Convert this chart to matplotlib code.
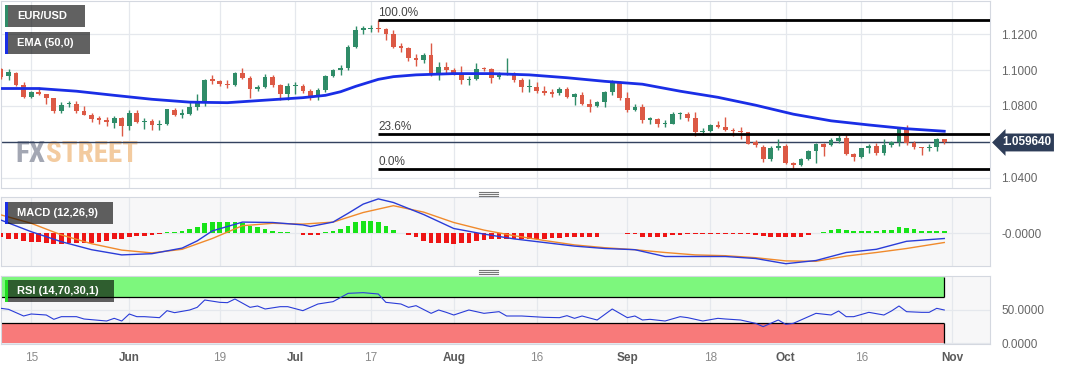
import numpy as np
import pandas as pd
import matplotlib
matplotlib.use('Agg')
import matplotlib.pyplot as plt
from matplotlib.patches import Rectangle
from matplotlib.lines import Line2D
from matplotlib import font_manager

plt.rcParams['font.family'] = ['Liberation Sans', 'DejaVu Sans']

# ---- data (EUR/USD daily, 2023-05-09 .. 2023-10-31) ----
axis_days = pd.bdate_range('2023-05-09', '2023-11-01')

opens = [1.1005, 1.0965, 1.0985, 1.0918, 1.0850, 1.0877, 1.0864, 1.0842, 1.0771, 1.0808,
         1.0812, 1.0770, 1.0752, 1.0727, 1.0722, 1.0706, 1.0735, 1.0690, 1.0763, 1.0708,
         1.0714, 1.0693, 1.0700, 1.0780, 1.0750, 1.0757, 1.0793, 1.0830, 1.0945, 1.0940,
         1.0924, 1.0918, 1.0986, 1.0957, 1.0896, 1.0906, 1.0960, 1.0914, 1.0868, 1.0910,
         1.0912, 1.0882, 1.0856, 1.0889, 1.0967, 1.0998, 1.1010, 1.1130, 1.1225, 1.1228,
         1.1235, 1.1228, 1.1200, 1.1133, 1.1125, 1.1066, 1.1055, 1.1085, 1.0978, 1.1016,
         1.0998, 1.0984, 1.0943, 1.0952, 1.1008, 1.1003, 1.0960, 1.0976, 1.0982, 1.0947,
         1.0903, 1.0906, 1.0882, 1.0872, 1.0873, 1.0896, 1.0850, 1.0863, 1.0811, 1.0797,
         1.0820, 1.0880, 1.0925, 1.0843, 1.0777, 1.0795, 1.0722, 1.0725, 1.0698, 1.0700,
         1.0753, 1.0756, 1.0731, 1.0653, 1.0660, 1.0693, 1.0680, 1.0665, 1.0660, 1.0652,
         1.0600, 1.0572, 1.0502, 1.0567, 1.0576, 1.0483, 1.0470, 1.0504, 1.0548, 1.0587,
         1.0582, 1.0605, 1.0620, 1.0530, 1.0518, 1.0563, 1.0576, 1.0539, 1.0585, 1.0600,
         1.0669, 1.0591, 1.0569, 1.0565, 1.0569, 1.0613]
highs = [1.1010, 1.1008, 1.0990, 1.0933, 1.0885, 1.0904, 1.0868, 1.0846, 1.0820, 1.0825,
         1.0830, 1.0798, 1.0758, 1.0745, 1.0740, 1.0745, 1.0740, 1.0780, 1.0780, 1.0730,
         1.0725, 1.0720, 1.0785, 1.0790, 1.0783, 1.0823, 1.0865, 1.0950, 1.0970, 1.0945,
         1.0946, 1.0990, 1.1012, 1.0965, 1.0915, 1.0976, 1.0975, 1.0920, 1.0930, 1.0935,
         1.0920, 1.0893, 1.0900, 1.0974, 1.1005, 1.1030, 1.1140, 1.1245, 1.1244, 1.1250,
         1.1276, 1.1232, 1.1225, 1.1150, 1.1130, 1.1090, 1.1096, 1.1149, 1.1045, 1.1045,
         1.1010, 1.1025, 1.0964, 1.1040, 1.1015, 1.1010, 1.0990, 1.1065, 1.0990, 1.0955,
         1.0950, 1.0932, 1.0910, 1.0895, 1.0905, 1.0905, 1.0872, 1.0880, 1.0840, 1.0830,
         1.0885, 1.0945, 1.0940, 1.0880, 1.0810, 1.0808, 1.0740, 1.0735, 1.0723, 1.0765,
         1.0768, 1.0765, 1.0768, 1.0675, 1.0700, 1.0715, 1.0738, 1.0678, 1.0682, 1.0655,
         1.0610, 1.0580, 1.0575, 1.0615, 1.0590, 1.0490, 1.0510, 1.0555, 1.0595, 1.0595,
         1.0620, 1.0640, 1.0640, 1.0540, 1.0565, 1.0590, 1.0595, 1.0618, 1.0605, 1.0675,
         1.0694, 1.0605, 1.0572, 1.0590, 1.0620, 1.0616]
lows = [1.0950, 1.0943, 1.0910, 1.0845, 1.0845, 1.0860, 1.0813, 1.0762, 1.0760, 1.0795,
        1.0762, 1.0748, 1.0710, 1.0702, 1.0690, 1.0675, 1.0635, 1.0665, 1.0705, 1.0673,
        1.0667, 1.0665, 1.0695, 1.0745, 1.0730, 1.0750, 1.0775, 1.0800, 1.0922, 1.0912,
        1.0898, 1.0910, 1.0950, 1.0845, 1.0885, 1.0900, 1.0905, 1.0835, 1.0835, 1.0864,
        1.0874, 1.0834, 1.0834, 1.0880, 1.0960, 1.0975, 1.1000, 1.1125, 1.1200, 1.1210,
        1.1211, 1.1165, 1.1120, 1.1103, 1.1050, 1.1025, 1.1038, 1.0966, 1.0945, 1.0985,
        1.0970, 1.0920, 1.0915, 1.0945, 1.0992, 1.0930, 1.0950, 1.0970, 1.0935, 1.0878,
        1.0880, 1.0870, 1.0860, 1.0850, 1.0860, 1.0845, 1.0805, 1.0805, 1.0765, 1.0795,
        1.0792, 1.0860, 1.0835, 1.0765, 1.0770, 1.0705, 1.0700, 1.0685, 1.0685, 1.0698,
        1.0725, 1.0715, 1.0635, 1.0640, 1.0652, 1.0675, 1.0658, 1.0630, 1.0615, 1.0588,
        1.0570, 1.0490, 1.0495, 1.0555, 1.0478, 1.0450, 1.0465, 1.0500, 1.0482, 1.0521,
        1.0575, 1.0596, 1.0525, 1.0495, 1.0510, 1.0535, 1.0525, 1.0525, 1.0570, 1.0576,
        1.0585, 1.0560, 1.0525, 1.0550, 1.0550, 1.0590]
closes = [1.0960, 1.0988, 1.0915, 1.0850, 1.0875, 1.0866, 1.0842, 1.0770, 1.0804, 1.0812,
          1.0770, 1.0752, 1.0725, 1.0722, 1.0708, 1.0735, 1.0690, 1.0763, 1.0710, 1.0713,
          1.0692, 1.0697, 1.0782, 1.0750, 1.0757, 1.0793, 1.0830, 1.0945, 1.0940, 1.0922,
          1.0916, 1.0986, 1.0957, 1.0895, 1.0906, 1.0960, 1.0914, 1.0868, 1.0910, 1.0912,
          1.0882, 1.0855, 1.0890, 1.0967, 1.1000, 1.1010, 1.1130, 1.1225, 1.1228, 1.1234,
          1.1228, 1.1200, 1.1130, 1.1125, 1.1066, 1.1055, 1.1085, 1.0978, 1.1016, 1.0998,
          1.0984, 1.0945, 1.0947, 1.1007, 1.1003, 1.0958, 1.0975, 1.0983, 1.0947, 1.0908,
          1.0906, 1.0882, 1.0872, 1.0868, 1.0897, 1.0847, 1.0866, 1.0812, 1.0796, 1.0820,
          1.0880, 1.0925, 1.0843, 1.0775, 1.0795, 1.0722, 1.0725, 1.0698, 1.0700, 1.0753,
          1.0756, 1.0733, 1.0652, 1.0660, 1.0693, 1.0680, 1.0665, 1.0660, 1.0652, 1.0590,
          1.0585, 1.0502, 1.0567, 1.0572, 1.0480, 1.0470, 1.0504, 1.0549, 1.0590, 1.0572,
          1.0612, 1.0620, 1.0532, 1.0513, 1.0563, 1.0576, 1.0535, 1.0582, 1.0600, 1.0669,
          1.0591, 1.0569, 1.0565, 1.0569, 1.0613, 1.05964]

ema_idx = [0, 5, 10, 15, 20, 25, 30, 35, 40, 43, 45, 47, 50, 52, 55, 60, 65, 70, 75,
           80, 85, 90, 95, 100, 105, 110, 115, 120, 125]
ema_val = [1.0897, 1.0897, 1.0882, 1.0859, 1.0837, 1.0821, 1.0818, 1.0832, 1.0846,
           1.0859, 1.0879, 1.0909, 1.0948, 1.0963, 1.0973, 1.0980, 1.0980, 1.0973,
           1.0957, 1.0937, 1.0921, 1.0882, 1.0848, 1.0804, 1.0754, 1.0717, 1.0694,
           1.0673, 1.0659]

macd_idx = [0, 4, 8, 12, 16, 20, 24, 26, 28, 32, 36, 40, 41, 44, 46, 48, 50, 52, 54,
            56, 60, 64, 68, 72, 76, 80, 84, 88, 92, 96, 100, 104, 108, 112, 116, 120, 125]
macd_val = [0.0033, 0.0004, -0.0021, -0.0041, -0.0054, -0.0051, -0.0037, -0.0019,
            0.0006, 0.0028, 0.0027, 0.0021, 0.0017, 0.0028, 0.0050, 0.0073, 0.0086,
            0.0077, 0.0062, 0.0047, 0.0012, -0.0002, -0.0014, -0.0023, -0.0032,
            -0.0038, -0.0041, -0.0058, -0.0058, -0.0058, -0.0063, -0.0076, -0.0068,
            -0.0048, -0.0040, -0.0020, -0.0013]
signal_idx = [0, 4, 8, 12, 16, 20, 24, 28, 32, 36, 40, 44, 48, 52, 56, 60, 64, 68, 72,
              76, 80, 84, 88, 92, 96, 100, 104, 108, 112, 116, 120, 125]
signal_val = [0.0046, 0.0025, -0.0004, -0.0026, -0.0042, -0.0049, -0.0040, -0.0013,
              0.0019, 0.0025, 0.0023, 0.0028, 0.0052, 0.0069, 0.0053, 0.0027, 0.0008,
              -0.0006, -0.0018, -0.0029, -0.0036, -0.0041, -0.0048, -0.0054, -0.0056,
              -0.0061, -0.0069, -0.0070, -0.0057, -0.0048, -0.0038, -0.0023]
hist_val = [-0.0008, -0.0013, -0.0015, -0.0018, -0.0021, -0.0021, -0.0023, -0.0027,
            -0.0027, -0.0025, -0.0025, -0.0023, -0.0023, -0.0021, -0.0018, -0.0015,
            -0.0014, -0.0008, -0.0007, -0.0006, -0.0004, -0.0001, 0.0003, 0.0004,
            0.0007, 0.0011, 0.0015, 0.0025, 0.0028, 0.0028, 0.0028, 0.0028, 0.0025,
            0.0018, 0.0015, 0.0011, 0.0007, 0.0004, 0.0003, 0.0002, -0.0003, -0.0004,
            -0.0003, 0.0003, 0.0006, 0.0010, 0.0019, 0.0028, 0.0030, 0.0031, 0.0028,
            0.0019, 0.0008, 0.0000, -0.0005, -0.0008, -0.0019, -0.0023, -0.0023,
            -0.0025, -0.0027, -0.0025, -0.0023, -0.0019, -0.0017, -0.0015, -0.0015,
            -0.0015, -0.0015, -0.0015, -0.0013, -0.0013, -0.0014, -0.0011, -0.0011,
            -0.0010, -0.0010, -0.0010, -0.0009, -0.0008, 0.0001, 0.0001, 0.0001,
            -0.0001, -0.0002, -0.0008, -0.0008, -0.0008, -0.0008, -0.0003, -0.0003,
            -0.0002, -0.0002, -0.0002, -0.0002, -0.0002, -0.0001, -0.0001, -0.0001,
            -0.0002, -0.0003, -0.0007, -0.0008, -0.0008, -0.0008, -0.0008, -0.0008,
            -0.0003, 0.0002, 0.0003, 0.0008, 0.0011, 0.0008, 0.0007, 0.0007, 0.0007,
            0.0007, 0.0008, 0.0008, 0.0016, 0.0013, 0.0010, 0.0007, 0.0007, 0.0006,
            0.0006]

rsi_idx = [0, 1, 3, 4, 6, 7, 8, 10, 11, 14, 15, 16, 17, 18, 19, 21, 22, 23, 25, 26,
           27, 29, 30, 31, 33, 34, 35, 37, 38, 40, 42, 44, 46, 48, 50, 51, 53, 54, 55,
           57, 58, 59, 60, 62, 64, 66, 67, 69, 72, 74, 75, 76, 77, 79, 81, 83, 84, 85,
           86, 88, 90, 91, 93, 95, 96, 98, 100, 101, 102, 103, 104, 105, 108, 110, 111,
           112, 113, 115, 117, 118, 119, 120, 122, 123, 124, 125]
rsi_val = [52.5, 51, 41, 44, 42.5, 36, 40, 40, 36.5, 33.5, 37.5, 33.5, 44, 40, 40, 38.5,
           49, 46, 50, 54, 65, 61.5, 61, 66.5, 54, 56, 51.5, 55, 55, 49, 59, 62.5, 75,
           76, 74, 61.5, 59, 54, 56.5, 45, 50, 46.5, 42.5, 50, 45, 47.5, 41, 41, 39,
           38.5, 41.5, 37.5, 41, 35, 51.5, 38.5, 41, 35, 36, 33.5, 40, 38.5, 33.5, 37.5,
           36.5, 35, 30, 25, 30, 35, 28.5, 30, 45, 42.5, 48.5, 40, 40, 46.5, 42.5, 48.5,
           56, 47.5, 46.5, 46.5, 52.5, 50]

fib_pcts = [100.0, 23.6, 0.0]

tick_dates = ['2023-05-15', '2023-06-01', '2023-06-19', '2023-07-03', '2023-07-17',
              '2023-08-01', '2023-08-16', '2023-09-01', '2023-09-18', '2023-10-02',
              '2023-10-16', '2023-11-01']
tick_labels = ['15', 'Jun', '19', 'Jul', '17', 'Aug', '16', 'Sep', '18', 'Oct', '16', 'Nov']
months = {'Jun', 'Jul', 'Aug', 'Sep', 'Oct', 'Nov'}

# ---- figure ----
W, H = 1067, 370
GREEN, RED = '#2f8c68', '#dc5945'
fig = plt.figure(figsize=(W / 100, H / 100), dpi=100)


def box(x0, y0, x1, y1):
    return [x0 / W, 1 - y1 / H, (x1 - x0) / W, (y1 - y0) / H]


ax = fig.add_axes(box(0.5, 0.5, 990, 188))
ax_m = fig.add_axes(box(0.5, 197, 990, 266), sharex=ax)
ax_r = fig.add_axes(box(0.5, 276, 990, 344), sharex=ax)

o, h, l, c = map(np.array, (opens, highs, lows, closes))
x = np.arange(len(o))
up = c >= o
cols = np.where(up, GREEN, RED)

ax.vlines(x, l, h, colors=cols, lw=1.0, zorder=3)
body_lo = np.minimum(o, c)
body_h = np.maximum(np.abs(c - o), 0.0008)
ax.bar(x, body_h, bottom=body_lo, width=0.62, color=cols, zorder=4)

ax.plot(ema_idx, ema_val, color='#1a2ee6', lw=2.0, zorder=5)
ax.axhline(c[-1], color='#33425f', lw=1.0, zorder=2)

# fibonacci retracement
i_hi = int(np.argmax(h))
swing_hi, swing_lo = h.max(), l.min()
for pct in fib_pcts:
    lvl = swing_lo + (swing_hi - swing_lo) * pct / 100
    ax.hlines(lvl, i_hi, 200, color='black', lw=2.0, zorder=6)
    ax.text(i_hi, lvl + 0.0006, f'{pct:.1f}%', fontsize=8.5, color='#444444',
            ha='left', va='bottom', zorder=6)

ax.set_ylim(1.03428, 1.13872)
ax.set_yticks([1.04, 1.06, 1.08, 1.10, 1.12])
ax.set_yticklabels(['1.0400', '', '1.0800', '1.1000', '1.1200'])

# watermark, in a condensed face when one is installed
names = {f.name for f in font_manager.fontManager.ttflist}
wm_family = [n for n in ('Roboto Condensed', 'Liberation Sans Narrow', 'Open Sans Condensed')
             if n in names] + ['Liberation Sans']
wm_size = 21 if wm_family[0] != 'Liberation Sans' else 15
fx = ax.text(15 / 990, 0.105, 'FX', transform=ax.transAxes, fontsize=wm_size,
             fontweight='bold', color='#a3a7b3', family=wm_family, va='bottom', zorder=1)
ax.annotate('STREET', xy=(1, 0), xycoords=fx, fontsize=wm_size, fontweight='bold',
            color='#f3cb9f', family=wm_family, va='bottom', ha='left', zorder=1)

# price tag
ax.text(1.012, c[-1], f'{c[-1]:.6f}', transform=ax.get_yaxis_transform(),
        fontsize=8.5, fontweight='bold', color='white', ha='left', va='center',
        bbox=dict(boxstyle='larrow,pad=0.25', fc='#2e3d58', ec='none'), clip_on=False)

# MACD
hcol = np.where(np.array(hist_val) >= 0, '#18e418', '#ee1515')
ax_m.bar(x, hist_val, width=0.62, color=hcol, zorder=3)
ax_m.plot(signal_idx, signal_val, color='#f08a2c', lw=1.0, zorder=4)
ax_m.plot(macd_idx, macd_val, color='#2a3cd8', lw=1.0, zorder=5)
ax_m.set_ylim(-0.008175, 0.009075)
ax_m.set_yticks([0])
ax_m.set_yticklabels(['-0.0000'])

# RSI
x_end = x[-1]
ax_r.fill_between([-1, x_end], 70, 100, color='#7df77d', zorder=1, lw=0)
ax_r.fill_between([-1, x_end], 0, 30, color='#f87a7a', zorder=1, lw=0)
ax_r.hlines([70, 30], -1, x_end, color='black', lw=0.9, zorder=2)
ax_r.vlines(x_end, 70, 100, color='black', lw=0.9, zorder=2)
ax_r.vlines(x_end, 0, 30, color='black', lw=0.9, zorder=2)
ax_r.plot(rsi_idx, rsi_val, color='#2a3cd8', lw=0.8, zorder=3)
ax_r.set_ylim(-1, 101)
ax_r.set_yticks([0, 50])
ax_r.set_yticklabels(['0.0000', '50.0000'])

ticks = [axis_days.get_loc(pd.Timestamp(d)) for d in tick_dates]
ax.set_xlim(-0.066, 131.06)

for a in (ax, ax_m, ax_r):
    for s in a.spines.values():
        s.set_color('#d4d8e0')
    a.set_xticks(ticks)
    a.grid(True, color='#e5e8ed', lw=0.9)
    a.set_axisbelow(True)
    a.yaxis.tick_right()
    a.tick_params(length=0)
    a.tick_params(axis='y', labelsize=8.5, labelcolor='#666666', pad=8)
ax.tick_params(axis='x', labelbottom=False)
ax_m.tick_params(axis='x', labelbottom=False)
ax_m.set_facecolor('#f7f7f8')
ax_r.set_facecolor('#f7f7f8')

ax_r.set_xticklabels(tick_labels)
ax_r.tick_params(axis='x', labelsize=8.5, pad=6)
for t in ax_r.get_xticklabels():
    if t.get_text() in months:
        t.set_fontweight('bold')
        t.set_color('#5a5a5a')
    else:
        t.set_color('#8a8a8a')


def legend_tag(x0, y0, x1, y1, stripe, label):
    fig.add_artist(Rectangle((x0 / W, 1 - y1 / H), (x1 - x0) / W, (y1 - y0) / H,
                             transform=fig.transFigure, fc='black', alpha=0.62,
                             ec='none', zorder=5))
    fig.add_artist(Rectangle((x0 / W, 1 - y1 / H), 3 / W, (y1 - y0) / H,
                             transform=fig.transFigure, fc=stripe, ec='none', zorder=6))
    fig.text((x0 + 12) / W, 1 - (y0 + y1) / 2 / H, label, color='white', fontsize=8,
             fontweight='bold', ha='left', va='center', zorder=7)


legend_tag(5, 5, 85, 27, GREEN, 'EUR/USD')
legend_tag(5, 32, 90, 54, '#1a2ee6', 'EMA (50,0)')
legend_tag(5, 202, 113, 224, '#1a2ee6', 'MACD (12,26,9)')
legend_tag(5, 280, 114, 302, '#22dd22', 'RSI (14,70,30,1)')

# panel drag handles
for yy in (191.5, 193.5, 195.5, 269.5, 271.5, 273.5):
    fig.add_artist(Line2D([479 / W, 498 / W], [1 - yy / H] * 2,
                          transform=fig.transFigure, color='#777777', lw=0.8))

fig.savefig('out.png', dpi=100)
